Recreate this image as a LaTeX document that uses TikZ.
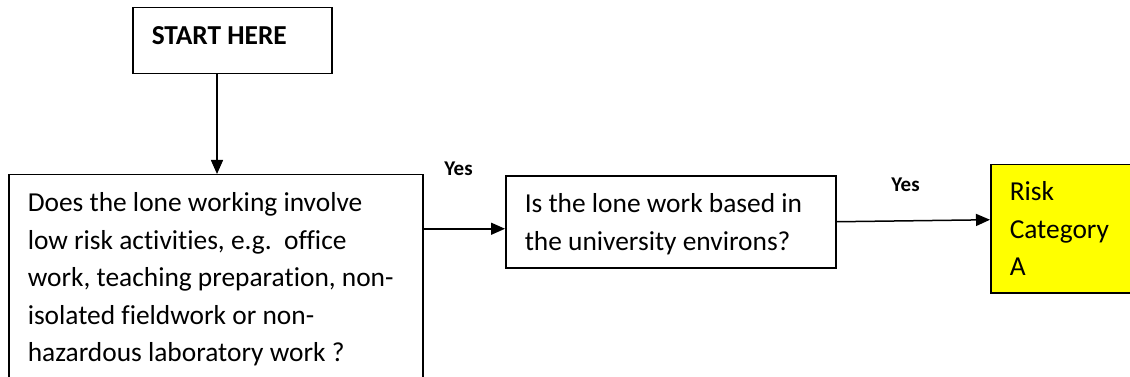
\documentclass[tikz,border=0pt]{standalone}
\usepackage{amsmath,amssymb,amsfonts}
\usepackage{fontspec}
\setmainfont{Carlito}[Ligatures=NoCommon]
\usetikzlibrary{arrows.meta}
\definecolor{riskyellow}{RGB}{255,255,0}
\tikzset{
	flowbox/.style={draw, line width=1.5pt, anchor=north west, align=flush left, inner ysep=0pt, inner xsep=19pt, font=\fontsize{27.4pt}{37.5pt}\selectfont},
	yeslabel/.style={inner sep=0pt, font=\fontsize{21pt}{23pt}\selectfont\bfseries},
	flowarrow/.style={line width=1.5pt, -{Triangle[length=14pt,width=12pt]}}
}

\begin{document}
\begin{tikzpicture}[x=1pt,y=-1pt]
			\useasboundingbox (0,0) rectangle (1130,377);
			\clip (0,0) rectangle (1130,377);
			\node[flowbox, text width=161pt, text height=36.5pt, text depth=29.5pt] (start) at (132,7) {\textbf{START HERE}};
			\node[flowbox, text width=376pt, text height=37pt, text depth=190pt] (lowrisk) at (8,174) {Does the lone working involve\\low risk activities, e.g.\ \ office\\work, teaching preparation, non-\\isolated fieldwork or non-\\hazardous laboratory work ?};
			\node[flowbox, text width=292pt, text height=37pt, text depth=55pt] (campus) at (505,175) {Is the lone work based in\\the university environs?};
			\node[flowbox, fill=riskyellow, text width=200pt, text height=36pt, text depth=92pt] (riska) at (990,164) {Risk\\Category\\A};
			\draw[flowarrow] ([xshift=85pt]start.south west) -- ([xshift=85pt]start.south west |- lowrisk.north);
			\draw[flowarrow] ([yshift=-7pt]campus.west -| lowrisk.east) -- node[yeslabel, pos=0.43, above=52pt] (yesa) {Yes} ([yshift=-7pt]campus.west);
			\draw[flowarrow] (campus.east) -- node[yeslabel, pos=0.45, above=28pt] (yesb) {Yes} ([yshift=9pt]riska.west);
	\end{tikzpicture}
\end{document}
